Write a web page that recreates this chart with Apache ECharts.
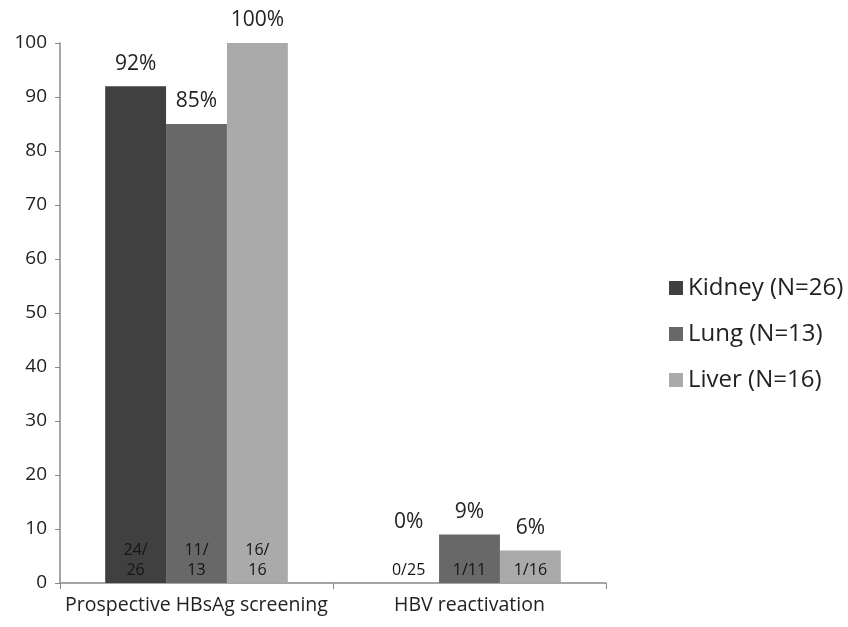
<!DOCTYPE html>
<html><head><meta charset="utf-8">
<script src="https://cdn.jsdelivr.net/npm/echarts@6/dist/echarts.min.js"></script>
<style>html,body{margin:0;padding:0;background:#fff}#c{width:848px;height:627px}</style>
</head><body><div id="c"></div>
<script>
const categories = ['Prospective HBsAg screening', 'HBV reactivation'];
const seriesNames = ['Kidney (N=26)', 'Lung (N=13)', 'Liver (N=16)'];
const kidney = [92, 0];
const lung = [85, 9];
const liver = [100, 6];
const kidneyFrac = ['24/\n26', '0/25'];
const lungFrac = ['11/\n13', '1/11'];
const liverFrac = ['16/\n16', '1/16'];
const yTicks = [0, 10, 20, 30, 40, 50, 60, 70, 80, 90, 100];

const colors = ['#404040', '#686868', '#aaaaaa'];
const values = [kidney, lung, liver];
const fracs = [kidneyFrac, lungFrac, liverFrac];
const FONT = 'Open Sans';

const series = [];
values.forEach((vals, i) => {
  series.push({
    name: seriesNames[i], type: 'bar', stack: 's' + i,
    data: vals.map((v, j) => ({value: v, label: {formatter: fracs[i][j]}})),
    itemStyle: {color: colors[i]},
    barWidth: '22.3%', barGap: '0%',
    label: {show: true, position: 'insideBottom', distance: 3, color: '#151515', fontFamily: FONT, fontSize: 16, lineHeight: 20},
    emphasis: {disabled: true}
  });
});
values.forEach((vals, i) => {
  series.push({
    name: seriesNames[i], type: 'bar', stack: 's' + i,
    data: vals.map((v, j) => ({value: 0, label: {formatter: v + '%', offset: (v === 0 ? [0, -38] : [0, 0])}})),
    itemStyle: {color: colors[i]},
    barWidth: '22.3%', barGap: '0%',
    label: {show: true, position: 'top', distance: 12, color: '#222', fontFamily: FONT, fontSize: 21},
    emphasis: {disabled: true}
  });
});

const chart = echarts.init(document.getElementById('c'));
chart.setOption({
  animation: false,
  grid: {left: 60, right: 242, top: 43, bottom: 44, containLabel: false},
  legend: {
    data: seriesNames, orient: 'vertical', left: 664, top: 271, itemGap: 22,
    itemWidth: 14, itemHeight: 14, icon: 'rect',
    textStyle: {fontFamily: FONT, fontSize: 24, lineHeight: 24, color: '#222'}
  },
  xAxis: {
    type: 'category', data: categories,
    axisLine: {lineStyle: {color: '#888', width: 1.5}},
    axisTick: {show: true, length: 6, lineStyle: {color: '#888'}},
    axisLabel: {interval: 0, fontFamily: FONT, fontSize: 19.5, color: '#222', margin: 12}
  },
  yAxis: {
    type: 'value', min: yTicks[0], max: yTicks[yTicks.length - 1], interval: 10,
    splitLine: {show: false},
    axisLine: {show: true, lineStyle: {color: '#888', width: 1.5}},
    axisTick: {show: true, length: 5, lineStyle: {color: '#888'}},
    axisLabel: {fontFamily: FONT, fontSize: 19, color: '#222', margin: 13}
  },
  series: series
});
</script></body></html>
